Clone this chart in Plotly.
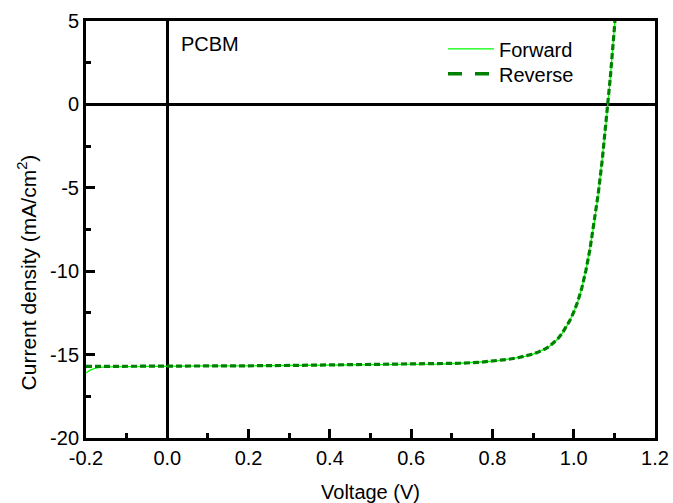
import plotly.graph_objects as go

# J-V sweep of the PCBM device (voltage in V, current density in mA/cm^2)
voltage = [-0.2, -0.19, -0.18, -0.17, -0.15, -0.1, 0.0, 0.1, 0.2, 0.3, 0.4, 0.5,
           0.6, 0.67, 0.72, 0.77, 0.8, 0.82, 0.84, 0.86, 0.88, 0.9, 0.91, 0.92,
           0.93, 0.94, 0.95, 0.96, 0.97, 0.98, 0.99, 1.0, 1.01, 1.02, 1.03, 1.04,
           1.05, 1.06, 1.07, 1.08, 1.09, 1.1, 1.104]

forward_j = [-16.1, -15.93, -15.84, -15.78, -15.74, -15.72, -15.70, -15.68, -15.67,
             -15.65, -15.63, -15.61, -15.59, -15.57, -15.52, -15.46, -15.40, -15.35,
             -15.28, -15.20, -15.10, -14.97, -14.88, -14.78, -14.66, -14.51, -14.32,
             -14.08, -13.78, -13.42, -12.98, -12.46, -11.82, -11.0, -9.95, -8.68,
             -7.18, -5.42, -3.38, -1.05, 1.6, 4.55, 5.8]

reverse_j = [-15.71, -15.71, -15.71, -15.71, -15.71, -15.71, -15.70, -15.68, -15.67,
             -15.65, -15.63, -15.61, -15.59, -15.57, -15.52, -15.46, -15.40, -15.35,
             -15.28, -15.20, -15.10, -14.97, -14.88, -14.78, -14.66, -14.51, -14.32,
             -14.08, -13.78, -13.42, -12.98, -12.46, -11.82, -11.0, -9.95, -8.68,
             -7.18, -5.42, -3.38, -1.05, 1.6, 4.55, 5.8]

x_ticks = [-0.2, 0.0, 0.2, 0.4, 0.6, 0.8, 1.0, 1.2]
x_tick_text = ["-0.2", "0.0", "0.2", "0.4", "0.6", "0.8", "1.0", "1.2"]
y_ticks = [-20, -15, -10, -5, 0, 5]
y_tick_text = ["-20", "-15", "-10", "-5", "0", "5"]

FONT = "Liberation Sans, Arial, sans-serif"
FWD_COLOR = "#00ff00"
REV_COLOR = "#008000"

fig = go.Figure()
fig.add_trace(go.Scatter(
    x=voltage, y=forward_j, name="Forward", mode="lines",
    line=dict(color=FWD_COLOR, width=1.3), legend="legend",
))
fig.add_trace(go.Scatter(
    x=voltage, y=reverse_j, name="Reverse", mode="lines",
    line=dict(color=REV_COLOR, width=3.2, dash="6px,3px"), showlegend=False,
))
# legend key for the reverse sweep, drawn with a longer dash
fig.add_trace(go.Scatter(
    x=[None], y=[None], name="Reverse", mode="lines",
    line=dict(color=REV_COLOR, width=3.5, dash="14px,13px"), legend="legend2",
))

fig.add_annotation(
    x=0.03, y=3.6, xref="x", yref="y", text="PCBM", showarrow=False,
    xanchor="left", yanchor="middle", font=dict(family=FONT, size=20, color="black"),
)
fig.add_annotation(
    x=-0.103, y=0.398, xref="paper", yref="paper",
    text="Current density (mA/cm<sup>2</sup>)", showarrow=False, textangle=-90,
    xanchor="center", yanchor="middle", font=dict(family=FONT, size=21, color="black"),
)

axis_common = dict(
    showline=True, linecolor="black", linewidth=3, mirror=True,
    ticks="inside", ticklen=9, tickwidth=2.5, tickcolor="black",
    showgrid=False, zeroline=True, zerolinecolor="black", zerolinewidth=3,
    tickfont=dict(family=FONT, size=20, color="black"), automargin=False,
)

fig.update_xaxes(
    range=[-0.2, 1.2], tickvals=x_ticks, ticktext=x_tick_text,
    minor=dict(ticks="inside", ticklen=5, tickwidth=2.5, tickcolor="black", dtick=0.1),
    title=dict(text="Voltage (V)", font=dict(family=FONT, size=20, color="black"), standoff=17),
    **axis_common,
)
fig.update_yaxes(
    range=[-20, 5], tickvals=y_ticks, ticktext=y_tick_text,
    minor=dict(ticks="inside", ticklen=5, tickwidth=2.5, tickcolor="black", dtick=2.5),
    **axis_common,
)

legend_common = dict(
    xanchor="left", yanchor="top", bgcolor="rgba(0,0,0,0)", borderwidth=0,
    font=dict(family=FONT, size=20, color="black"), itemwidth=46,
)

fig.update_layout(
    width=673, height=503,
    margin=dict(l=86, r=18, t=21, b=65),
    paper_bgcolor="white", plot_bgcolor="white",
    showlegend=True,
    legend=dict(x=0.6274, y=0.98, **legend_common),
    legend2=dict(x=0.6274, y=0.92, **legend_common),
)

fig.write_html("out.html")
